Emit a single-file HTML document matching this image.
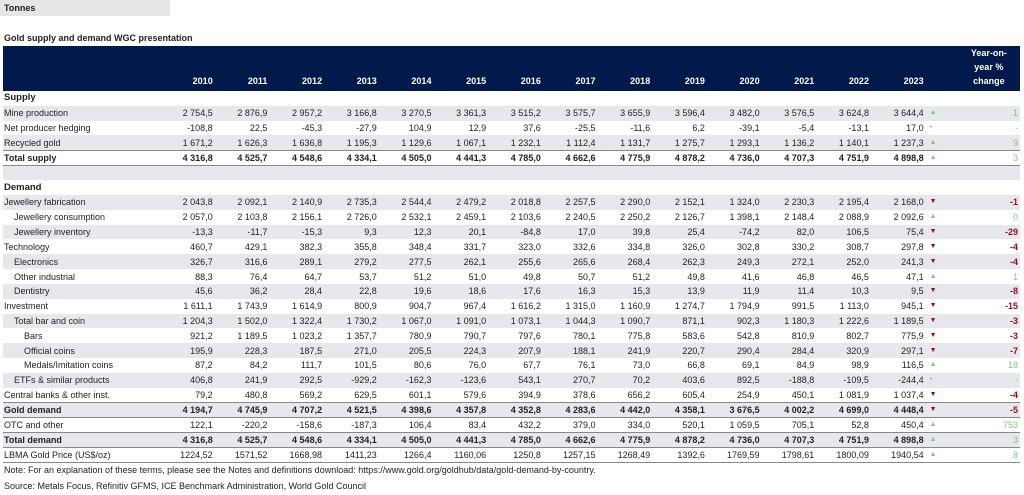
<!DOCTYPE html>
<html><head><meta charset="utf-8"><style>
*{margin:0;padding:0;box-sizing:border-box}
body{width:1024px;height:495px;background:#fff;font-family:"Liberation Sans",sans-serif;font-size:9px;color:#222;position:relative;overflow:hidden}
.tn{position:absolute;left:0;top:0;width:170px;height:16px;background:#e6e6e6;font-weight:bold;padding:3px 4px;font-size:9px}
.tt{position:absolute;left:4px;top:33px;font-weight:bold;font-size:9px}
table{position:absolute;left:3px;top:46px;border-collapse:collapse;table-layout:fixed;width:1017px}
td{height:14.83px;padding:0 2px;white-space:nowrap;text-align:right;line-height:14px}
td:first-child{text-align:left;padding-left:1px}
tr.h td{background:#011a4b;color:#fff;font-weight:bold;height:45px;vertical-align:bottom;padding-bottom:3px;line-height:14px}
tr.g td{background:#e6e8ee}
tr.b td{font-weight:bold;border-top:1px solid #888;border-bottom:1px solid #888}
.s{font-weight:bold;font-size:9.5px}
.i1{padding-left:11px!important}.i2{padding-left:21px!important}
.a{text-align:left;font-size:7px;padding-left:4px}
.up{color:#7cc87e}.dn{color:#9b0a1a}
.pu{color:#7cc87e}.pd{color:#9b0a1a;font-weight:bold}
.ft{position:absolute;left:4px;font-size:9px}
</style></head><body>
<div class="tn">Tonnes</div>
<div class="tt">Gold supply and demand WGC presentation</div>
<table>
<colgroup><col style="width:157px"><col span="14" style="width:54.7px"><col style="width:20px"><col style="width:74.2px"></colgroup>
<tr class="h"><td></td><td>2010</td><td>2011</td><td>2012</td><td>2013</td><td>2014</td><td>2015</td><td>2016</td><td>2017</td><td>2018</td><td>2019</td><td>2020</td><td>2021</td><td>2022</td><td>2023</td><td></td><td style="text-align:center;padding-left:14px">Year-on-<br>year %<br>change</td></tr>
<tr><td class="s">Supply</td><td colspan="16"></td></tr>
<tr class="g"><td>Mine production</td><td>2 754,5</td><td>2 876,9</td><td>2 957,2</td><td>3 166,8</td><td>3 270,5</td><td>3 361,3</td><td>3 515,2</td><td>3 575,7</td><td>3 655,9</td><td>3 596,4</td><td>3 482,0</td><td>3 576,5</td><td>3 624,8</td><td>3 644,4</td><td class="a up">▲</td><td class="pu">1</td></tr>
<tr><td>Net producer hedging</td><td>-108,8</td><td>22,5</td><td>-45,3</td><td>-27,9</td><td>104,9</td><td>12,9</td><td>37,6</td><td>-25,5</td><td>-11,6</td><td>6,2</td><td>-39,1</td><td>-5,4</td><td>-13,1</td><td>17,0</td><td class="a">-</td><td class="pu">-</td></tr>
<tr class="g"><td>Recycled gold</td><td>1 671,2</td><td>1 626,3</td><td>1 636,8</td><td>1 195,3</td><td>1 129,6</td><td>1 067,1</td><td>1 232,1</td><td>1 112,4</td><td>1 131,7</td><td>1 275,7</td><td>1 293,1</td><td>1 136,2</td><td>1 140,1</td><td>1 237,3</td><td class="a up">▲</td><td class="pu">9</td></tr>
<tr class="b"><td>Total supply</td><td>4 316,8</td><td>4 525,7</td><td>4 548,6</td><td>4 334,1</td><td>4 505,0</td><td>4 441,3</td><td>4 785,0</td><td>4 662,6</td><td>4 775,9</td><td>4 878,2</td><td>4 736,0</td><td>4 707,3</td><td>4 751,9</td><td>4 898,8</td><td class="a up">▲</td><td class="pu" style="font-weight:normal">3</td></tr>
<tr class="g"><td colspan="17"></td></tr>
<tr><td class="s">Demand</td><td colspan="16"></td></tr>
<tr class="g"><td>Jewellery fabrication</td><td>2 043,8</td><td>2 092,1</td><td>2 140,9</td><td>2 735,3</td><td>2 544,4</td><td>2 479,2</td><td>2 018,8</td><td>2 257,5</td><td>2 290,0</td><td>2 152,1</td><td>1 324,0</td><td>2 230,3</td><td>2 195,4</td><td>2 168,0</td><td class="a dn">▼</td><td class="pd">-1</td></tr>
<tr><td class="i1">Jewellery consumption</td><td>2 057,0</td><td>2 103,8</td><td>2 156,1</td><td>2 726,0</td><td>2 532,1</td><td>2 459,1</td><td>2 103,6</td><td>2 240,5</td><td>2 250,2</td><td>2 126,7</td><td>1 398,1</td><td>2 148,4</td><td>2 088,9</td><td>2 092,6</td><td class="a up">▲</td><td class="pu">0</td></tr>
<tr class="g"><td class="i1">Jewellery inventory</td><td>-13,3</td><td>-11,7</td><td>-15,3</td><td>9,3</td><td>12,3</td><td>20,1</td><td>-84,8</td><td>17,0</td><td>39,8</td><td>25,4</td><td>-74,2</td><td>82,0</td><td>106,5</td><td>75,4</td><td class="a dn">▼</td><td class="pd">-29</td></tr>
<tr><td>Technology</td><td>460,7</td><td>429,1</td><td>382,3</td><td>355,8</td><td>348,4</td><td>331,7</td><td>323,0</td><td>332,6</td><td>334,8</td><td>326,0</td><td>302,8</td><td>330,2</td><td>308,7</td><td>297,8</td><td class="a dn">▼</td><td class="pd">-4</td></tr>
<tr class="g"><td class="i1">Electronics</td><td>326,7</td><td>316,6</td><td>289,1</td><td>279,2</td><td>277,5</td><td>262,1</td><td>255,6</td><td>265,6</td><td>268,4</td><td>262,3</td><td>249,3</td><td>272,1</td><td>252,0</td><td>241,3</td><td class="a dn">▼</td><td class="pd">-4</td></tr>
<tr><td class="i1">Other industrial</td><td>88,3</td><td>76,4</td><td>64,7</td><td>53,7</td><td>51,2</td><td>51,0</td><td>49,8</td><td>50,7</td><td>51,2</td><td>49,8</td><td>41,6</td><td>46,8</td><td>46,5</td><td>47,1</td><td class="a up">▲</td><td class="pu">1</td></tr>
<tr class="g"><td class="i1">Dentistry</td><td>45,6</td><td>36,2</td><td>28,4</td><td>22,8</td><td>19,6</td><td>18,6</td><td>17,6</td><td>16,3</td><td>15,3</td><td>13,9</td><td>11,9</td><td>11,4</td><td>10,3</td><td>9,5</td><td class="a dn">▼</td><td class="pd">-8</td></tr>
<tr><td>Investment</td><td>1 611,1</td><td>1 743,9</td><td>1 614,9</td><td>800,9</td><td>904,7</td><td>967,4</td><td>1 616,2</td><td>1 315,0</td><td>1 160,9</td><td>1 274,7</td><td>1 794,9</td><td>991,5</td><td>1 113,0</td><td>945,1</td><td class="a dn">▼</td><td class="pd">-15</td></tr>
<tr class="g"><td class="i1">Total bar and coin</td><td>1 204,3</td><td>1 502,0</td><td>1 322,4</td><td>1 730,2</td><td>1 067,0</td><td>1 091,0</td><td>1 073,1</td><td>1 044,3</td><td>1 090,7</td><td>871,1</td><td>902,3</td><td>1 180,3</td><td>1 222,6</td><td>1 189,5</td><td class="a dn">▼</td><td class="pd">-3</td></tr>
<tr><td class="i2">Bars</td><td>921,2</td><td>1 189,5</td><td>1 023,2</td><td>1 357,7</td><td>780,9</td><td>790,7</td><td>797,6</td><td>780,1</td><td>775,8</td><td>583,6</td><td>542,8</td><td>810,9</td><td>802,7</td><td>775,9</td><td class="a dn">▼</td><td class="pd">-3</td></tr>
<tr class="g"><td class="i2">Official coins</td><td>195,9</td><td>228,3</td><td>187,5</td><td>271,0</td><td>205,5</td><td>224,3</td><td>207,9</td><td>188,1</td><td>241,9</td><td>220,7</td><td>290,4</td><td>284,4</td><td>320,9</td><td>297,1</td><td class="a dn">▼</td><td class="pd">-7</td></tr>
<tr><td class="i2">Medals/Imitation coins</td><td>87,2</td><td>84,2</td><td>111,7</td><td>101,5</td><td>80,6</td><td>76,0</td><td>67,7</td><td>76,1</td><td>73,0</td><td>66,8</td><td>69,1</td><td>84,9</td><td>98,9</td><td>116,5</td><td class="a up">▲</td><td class="pu">18</td></tr>
<tr class="g"><td class="i1">ETFs &amp; similar products</td><td>406,8</td><td>241,9</td><td>292,5</td><td>-929,2</td><td>-162,3</td><td>-123,6</td><td>543,1</td><td>270,7</td><td>70,2</td><td>403,6</td><td>892,5</td><td>-188,8</td><td>-109,5</td><td>-244,4</td><td class="a">-</td><td class="pu">-</td></tr>
<tr><td>Central banks &amp; other inst.</td><td>79,2</td><td>480,8</td><td>569,2</td><td>629,5</td><td>601,1</td><td>579,6</td><td>394,9</td><td>378,6</td><td>656,2</td><td>605,4</td><td>254,9</td><td>450,1</td><td>1 081,9</td><td>1 037,4</td><td class="a dn">▼</td><td class="pd">-4</td></tr>
<tr class="g b"><td>Gold demand</td><td>4 194,7</td><td>4 745,9</td><td>4 707,2</td><td>4 521,5</td><td>4 398,6</td><td>4 357,8</td><td>4 352,8</td><td>4 283,6</td><td>4 442,0</td><td>4 358,1</td><td>3 676,5</td><td>4 002,2</td><td>4 699,0</td><td>4 448,4</td><td class="a dn">▼</td><td class="pd">-5</td></tr>
<tr><td>OTC and other</td><td>122,1</td><td>-220,2</td><td>-158,6</td><td>-187,3</td><td>106,4</td><td>83,4</td><td>432,2</td><td>379,0</td><td>334,0</td><td>520,1</td><td>1 059,5</td><td>705,1</td><td>52,8</td><td>450,4</td><td class="a up">▲</td><td class="pu">753</td></tr>
<tr class="g b"><td>Total demand</td><td>4 316,8</td><td>4 525,7</td><td>4 548,6</td><td>4 334,1</td><td>4 505,0</td><td>4 441,3</td><td>4 785,0</td><td>4 662,6</td><td>4 775,9</td><td>4 878,2</td><td>4 736,0</td><td>4 707,3</td><td>4 751,9</td><td>4 898,8</td><td class="a up">▲</td><td class="pu" style="font-weight:normal">3</td></tr>
<tr style="border-bottom:1px solid #888"><td>LBMA Gold Price (US$/oz)</td><td>1224,52</td><td>1571,52</td><td>1668,98</td><td>1411,23</td><td>1266,4</td><td>1160,06</td><td>1250,8</td><td>1257,15</td><td>1268,49</td><td>1392,6</td><td>1769,59</td><td>1798,61</td><td>1800,09</td><td>1940,54</td><td class="a up">▲</td><td class="pu">8</td></tr>
</table>
<div class="ft" style="top:465px">Note: For an explanation of these terms, please see the Notes and definitions download: https://www.gold.org/goldhub/data/gold-demand-by-country.</div>
<div class="ft" style="top:481px">Source: Metals Focus, Refinitiv GFMS, ICE Benchmark Administration, World Gold Council</div>
</body></html>
